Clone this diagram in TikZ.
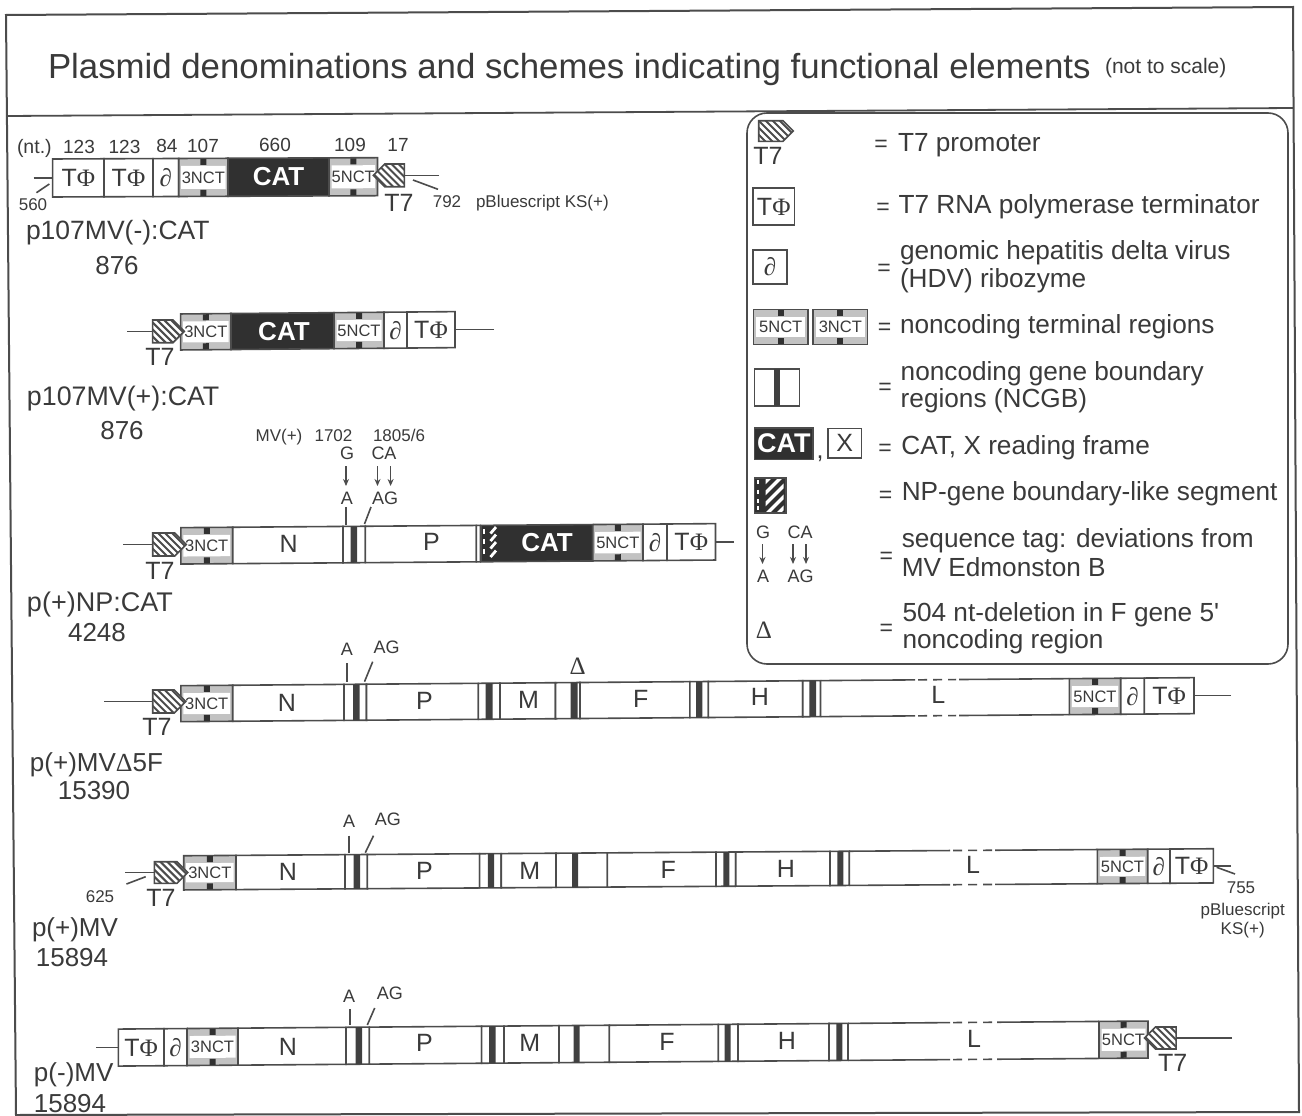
\documentclass[tikz,border=0pt]{standalone}
\usepackage{fontspec}
\setmainfont{Liberation Sans}
\newfontfamily\srf{Liberation Serif}
\newfontfamily\plainsans{Liberation Sans}
\usetikzlibrary{shapes.symbols,arrows.meta,calc}
\definecolor{ink}{HTML}{3A3A3A}
\definecolor{linec}{HTML}{4C4C4C}
\definecolor{darkf}{HTML}{303030}
\definecolor{barc}{HTML}{404040}
\definecolor{nctg}{HTML}{C2C2C2}
\newcommand\fsz[1]{\fontsize{#1}{#1}\selectfont}
\newcommand\TPhi{T{\srf Φ}}
\newcommand\dpar{{\srf ∂}}
\newcommand\Dlt{{\srf Δ}}
\tikzset{
  txt/.style={inner sep=0pt,outer sep=0pt,text=ink},
  conn/.style={draw=linec,line width=1.6pt},
  segbox/.style={draw=linec,line width=1.6pt,fill=white,inner sep=0pt,outer sep=0pt,text=ink,font=\fsz{25}},
  catbox/.style={segbox,fill=darkf,text=white,font=\fsz{26}\bfseries},
  nctlab/.style={inner sep=0pt,outer sep=0pt,text=ink,font=\fsz{16.5}},
  gbar/.style={fill=barc},
  pent/.style={shape=signal,signal from=nowhere,draw=linec,line width=1.6pt,fill=white,inner sep=0pt,outer sep=0pt,
    path picture={\foreach \d in {-35,-28,...,35}{\draw[linec,line width=2pt] ([xshift=\d pt]path picture bounding box.center) ++(-20pt,20pt) -- ++(40pt,-40pt);}}},
  rowtilt/.style={cm={1,#1,0,1,(0,0)},every node/.append style={transform shape}},
  seqarrow/.style={draw=linec,line width=1.2pt,-{Stealth[length=7pt,width=6pt]}},
}
\newcommand\seg[4]{\node[segbox,minimum width={(#3-#2)*1pt},minimum height={(\yb-\yt)*1pt}] (#1) at ({(#2+#3)/2},{(\yt+\yb)/2}) {#4};}
\newcommand\cat[3]{\node[catbox,minimum width={(#3-#2)*1pt},minimum height={(\yb-\yt)*1pt}] (#1) at ({(#2+#3)/2},{(\yt+\yb)/2}) {};}
\newcommand\nct[4]{%
  \node[segbox,fill=nctg,minimum width={(#3-#2)*1pt},minimum height={(\yb-\yt)*1pt}] (#1) at ({(#2+#3)/2},{(\yt+\yb)/2}) {};
  \fill[white] ({#2+2.5},{\yt+7.5}) rectangle ({#3-2.5},{\yb-7.5});
  \fill[darkf] ({(#2+#3)/2-3},{\yt+0.5}) rectangle ({(#2+#3)/2+3},{\yt+6.5});
  \fill[darkf] ({(#2+#3)/2-3},{\yb-6.5}) rectangle ({(#2+#3)/2+3},{\yb-0.5});
  \node[nctlab] (#1l) at ({(#2+#3)/2},{(\yt+\yb)/2}) {#4};}
\newcommand\bd[5]{\seg{#1}{#2}{#3}{}\fill[gbar] (#4,\yt) rectangle (#5,\yb);}
\newcommand\Lseg[4]{%
  \draw[conn] (#1,\yt) -- (#2,\yt) (#3,\yt) -- (#4,\yt) (#1,\yb) -- (#2,\yb) (#3,\yb) -- (#4,\yb);
  \draw[conn,dash pattern=on 9pt off 6pt] ({#2+3},\yt) -- ({#3-3},\yt) ({#2+3},\yb) -- ({#3-3},\yb);}
\newcommand\txc[5]{\node[txt,anchor=base] (#1) at ({#2},{#3+0.358*#4}) {\fsz{#4}#5};}
\newcommand\txl[5]{\node[txt,anchor=base west] (#1) at ({#2},{#3+0.358*#4}) {\fsz{#4}#5};}
\newcommand\pentR[5]{\node[pent,signal to=east,minimum width={(#3-#2)*1pt},minimum height={(#5-#4)*1pt}] (#1) at ({(#2+#3)/2},{(#4+#5)/2}) {};}
\newcommand\pentL[5]{\node[pent,signal to=west,minimum width={(#3-#2)*1pt},minimum height={(#5-#4)*1pt}] (#1) at ({(#2+#3)/2},{(#4+#5)/2}) {};}
\newcommand\tick[5]{\coordinate (#1a) at (#2,#3);\coordinate (#1b) at (#4,#5);\draw[conn] (#1a) -- (#1b);}
\newcommand\stem[3]{\coordinate (#1) at (#2,0);\draw[conn] (#1 |- #3) -- (#3);}
\begin{document}
\begin{tikzpicture}[x=1pt,y=-1pt]
\useasboundingbox (0,0) rectangle (1302,1116);
\fill[white] (0,0) rectangle (1302,1116);
% frame
\draw[draw=linec,line width=2pt] (6,15) -- (1293,7) -- (1299,1112) -- (16,1115) -- cycle;
\draw[draw=linec,line width=1.8pt] (7,116) -- (1293,108);
% title
\txl{title}{48}{66}{34.8}{Plasmid denominations and schemes indicating functional elements}
\txl{titleb}{1105}{66}{21}{(not to scale)}

% legend
\draw[draw=linec,line width=1.6pt,rounded corners=20pt] (747,113) rectangle (1288,664);
\pentR{lgT}{753.6}{788}{120.7}{141.4}
\txc{lgTt}{768}{156}{25}{T7}
\txc{lgE1}{881}{143}{23}{=}\txl{lgL1}{898}{142}{26.2}{T7 promoter}
\def\yt{187.9}\def\yb{225}\seg{lgPhi}{752.9}{794.6}{\TPhi}
\txc{lgE2}{883}{206}{23}{=}\txl{lgL2}{898.5}{204}{26.2}{T7 RNA polymerase terminator}
\def\yt{250}\def\yb{284}\seg{lgDel}{753.2}{787}{\dpar}
\txc{lgE3}{884}{267}{23}{=}\txl{lgL3a}{900}{250}{26.2}{genomic hepatitis delta virus}\txl{lgL3b}{900}{278.5}{26.2}{(HDV) ribozyme}
\def\yt{309.3}\def\yb{344.6}\nct{lg5}{753.6}{807.9}{5NCT}\nct{lg3}{813.2}{867.5}{3NCT}
\txc{lgE4}{884.6}{326}{23}{=}\txl{lgL4}{900}{324}{26.2}{noncoding terminal regions}
\def\yt{369}\def\yb{405.7}\bd{lgB}{754.3}{799.3}{774}{780.4}
\txc{lgE5}{885}{386}{23}{=}\txl{lgL5a}{900.7}{371}{26.2}{noncoding gene boundary}\txl{lgL5b}{900.7}{398}{26.2}{regions (NCGB)}
\def\yt{427.9}\def\yb{459.3}\cat{lgC}{754.3}{813.2}\node[txt,text=white,font=\fsz{27}\bfseries] (lgCt) at (lgC) {CAT};
\txc{lgComma}{820}{450}{25}{,}
\def\yt{428.6}\def\yb{458}\seg{lgX}{828.2}{861.4}{X}
\txc{lgE6}{885}{447}{23}{=}\txl{lgL6}{901.4}{445}{26.2}{CAT, X reading frame}
\node[segbox,fill=darkf,minimum width=31.4pt,minimum height=35pt] (lgS) at (770,495.4) {};
\foreach \ys in {480,489.5,499,506}{\draw[white,line width=2.4pt] (757.7,\ys) -- (757.7,{\ys+4});}
\begin{scope}
\clip (765.5,479.5) rectangle (783.5,511);
\foreach \d in {-33,-22,-11,0,11,22,33}{\draw[white,line width=3.2pt] ({774.5+\d-20},{495+20}) -- ({774.5+\d+20},{495-20});}
\end{scope}
\txc{lgE7}{885.7}{494}{23}{=}\txl{lgL7}{901.8}{491.5}{26.2}{NP-gene boundary-like segment}
\txc{lgG}{763}{532.5}{18}{G}\txc{lgCA}{800}{532.5}{18}{CA}
\txc{lgA}{763}{576}{18}{A}\txc{lgAG}{800.7}{576}{18}{AG}
\coordinate (lga1) at (762.5,544);\coordinate (lgb1) at (762.5,564);\draw[seqarrow] (lga1) -- (lgb1);
\coordinate (lga2) at (793,544);\coordinate (lgb2) at (793,564);\draw[seqarrow] (lga2) -- (lgb2);
\coordinate (lga3) at (806,544);\coordinate (lgb3) at (806,564);\draw[seqarrow] (lga3) -- (lgb3);
\txc{lgE8}{886.4}{555}{23}{=}\txl{lgL8a}{901.8}{538.5}{26.2}{sequence tag: deviations from}\txl{lgL8b}{901.8}{567}{26.2}{MV Edmonston B}
\txc{lgD}{764}{629.5}{25}{\Dlt}
\txc{lgE9}{886.4}{627}{23}{=}\txl{lgL9a}{902.5}{612}{26.2}{504 nt-deletion in F gene 5{\plainsans '}}\txl{lgL9b}{902.5}{639.5}{26.2}{noncoding region}

% row 1
\txl{r1nt}{17}{147}{19.5}{(nt.)}
\txc{r1n1}{79}{147}{19}{123}\txc{r1n2}{124.5}{147}{19}{123}\txc{r1n3}{167}{146}{19}{84}\txc{r1n4}{203}{146}{19}{107}
\txc{r1n5}{275}{145}{19}{660}\txc{r1n6}{350}{145}{19}{109}\txc{r1n7}{398}{145}{19}{17}
\begin{scope}[rowtilt=0.004]
\def\yt{159.2}\def\yb{197.2}
\seg{r1a}{52.6}{104}{\TPhi}\seg{r1b}{104}{153}{\TPhi}\seg{r1c}{153}{178.7}{\dpar}
\nct{r1d}{178.7}{228}{3NCT}\cat{r1e}{228}{329}\nct{r1f}{329}{377.5}{5NCT}
\end{scope}
\node[txt,text=white,font=\fsz{26}\bfseries] (r1cat) at (278.6,177) {CAT};
\pentL{r1T}{379}{410}{164}{186.7}
\stem{r1s1}{33.6}{r1a.west}\stem{r1s2}{439}{r1T.east}
\tick{r1k1}{36.4}{192.7}{49.4}{184}\tick{r1k2}{413}{180}{438}{189.3}
\txc{r1t7}{399}{203}{25}{T7}\txc{r1792}{447}{201}{17}{792}\txl{r1pb}{476}{201}{17}{pBluescript KS(+)}\txc{r1560}{33}{204}{17}{560}
\txl{r1name}{26}{230}{26.5}{p107MV(-):CAT}\txc{r1len}{117}{265}{26}{876}

% row 2
\begin{scope}[rowtilt=0.0085]
\def\yt{315.5}\def\yb{351.5}
\nct{r2a}{180.6}{231}{3NCT}\cat{r2b}{231}{334}\nct{r2c}{334}{384}{5NCT}\seg{r2d}{384}{407}{\dpar}\seg{r2e}{407}{455}{\TPhi}
\end{scope}
\node[txt,text=white,font=\fsz{26}\bfseries] (r2cat) at (284,331.5) {CAT};
\pentR{r2T}{147}{178.6}{320}{342.7}
\stem{r2s1}{127}{r2T.west}\stem{r2s2}{494}{r2e.east}
\txc{r2t7}{160}{357}{25}{T7}
\txl{r2name}{27}{396}{26.8}{p107MV(+):CAT}\txc{r2len}{122}{430}{26}{876}

% row 3
\txc{r3mv}{279}{435}{17}{MV(+)}\txc{r3p1}{333.5}{435}{17}{1702}\txc{r3p2}{399}{435}{17}{1805/6}
\txc{r3G}{347}{453}{18}{G}\txc{r3CA}{384}{453}{18}{CA}\txc{r3A}{347}{498}{18}{A}\txc{r3AG}{385}{498}{18}{AG}
\coordinate (r3a1) at (346,466);\coordinate (r3b1) at (346,486);\draw[seqarrow] (r3a1) -- (r3b1);
\coordinate (r3a2) at (377.5,466);\coordinate (r3b2) at (377.5,486);\draw[seqarrow] (r3a2) -- (r3b2);
\coordinate (r3a3) at (390.6,466);\coordinate (r3b3) at (390.6,486);\draw[seqarrow] (r3a3) -- (r3b3);
\tick{r3k1}{345.7}{507}{345.7}{525}\tick{r3k2}{371}{507}{364.5}{524}
\begin{scope}[rowtilt=0.0075]
\def\yt{529}\def\yb{565.4}
\nct{r3a}{180.8}{232.7}{3NCT}\seg{r3b}{232.7}{343}{}\bd{r3c}{343}{365.3}{350.5}{357}\seg{r3d}{365.3}{476.3}{}
\seg{r3e}{476.3}{480.4}{}\cat{r3f}{481}{592.7}
\nct{r3g}{592.7}{643}{5NCT}\seg{r3h}{643}{667}{\dpar}\seg{r3i}{667}{715.5}{\TPhi}
\foreach \ys in {533,543,553}{\draw[white,line width=2pt] (483.5,\ys) -- (483.5,{\ys+4.5});}
\foreach \ys in {534,541.5,549,557.5}{\draw[white,line width=2.8pt] (490.5,{\ys+3.2}) -- (496,{\ys-3.2});}
\end{scope}
\txc{r3N}{288.6}{544}{25}{N}\txc{r3P}{431.4}{542}{25}{P}
\node[txt,text=white,font=\fsz{26}\bfseries] (r3cat) at (547,543) {CAT};
\pentR{r3T}{147}{180.4}{533}{556}
\stem{r3s1}{123}{r3T.west}\stem{r3s2}{734}{r3i.east}
\txc{r3t7}{160}{571}{25}{T7}
\txl{r3name}{27}{602}{27}{p(+)NP:CAT}\txc{r3len}{97}{632}{26}{4248}

% row 4
\txc{r4A}{347}{649}{18}{A}\txc{r4AG}{386.5}{647}{18}{AG}\txc{r4D}{577.6}{666}{25}{\Dlt}
\tick{r4k1}{347}{663}{347}{681.7}\tick{r4k2}{372.7}{661.7}{364.5}{681.7}
\begin{scope}[rowtilt=0.0079]
\def\yt{687.1}\def\yb{723.1}
\nct{r4a}{180.8}{232.7}{3NCT}\seg{r4b}{232.7}{344}{}\bd{r4c}{344}{366.5}{353}{359.6}\seg{r4d}{366.5}{478.4}{}
\bd{r4e}{478.4}{500}{485.7}{492.7}\seg{r4f}{500}{555.5}{}\bd{r4g}{555.5}{580}{570.6}{577.6}\seg{r4h}{580}{689.8}{}
\bd{r4i}{689.8}{708.3}{696}{702.3}\seg{r4j}{708.3}{802.7}{}\bd{r4k}{802.7}{820.5}{809.3}{816}
\Lseg{820.5}{915}{959}{1069.3}
\nct{r4m}{1069.3}{1120.7}{5NCT}\seg{r4n}{1120.7}{1144.3}{\dpar}\seg{r4o}{1144.3}{1194}{\TPhi}
\end{scope}
\txc{r4N}{287}{703}{25}{N}\txc{r4P}{424.5}{701}{25}{P}\txc{r4M}{528.6}{700}{25}{M}\txc{r4F}{640.8}{699}{25}{F}\txc{r4H}{760}{697}{25}{H}\txc{r4L}{938.3}{695}{25}{L}
\pentR{r4T}{147}{180}{690}{713}
\stem{r4s1}{104}{r4T.west}\stem{r4s2}{1231}{r4o.east}
\txc{r4t7}{157}{727}{25}{T7}
\txl{r4name}{30}{762}{26}{p(+)MV\Dlt5F}\txc{r4len}{94}{790}{26}{15390}

% row 5
\txc{r5A}{349}{821}{18}{A}\txc{r5AG}{387.8}{819}{18}{AG}
\tick{r5k1}{349}{835.7}{349}{852.7}\tick{r5k2}{373.5}{835.7}{365.3}{852.7}
\begin{scope}[rowtilt=0.0068]
\def\yt{857}\def\yb{891.2}
\nct{r5a}{183.7}{236}{3NCT}\seg{r5b}{236}{345}{}\bd{r5c}{345}{367.3}{353.5}{360}\seg{r5d}{367.3}{479.6}{}
\bd{r5e}{479.6}{501.2}{487.8}{494}\seg{r5f}{501.2}{556}{}\bd{r5g}{556}{607.3}{572}{578}\seg{r5h}{607.3}{716}{}
\bd{r5i}{716}{735.7}{723.3}{729.3}\seg{r5j}{735.7}{830}{}\bd{r5k}{830}{849.2}{837.3}{843.3}
\Lseg{849.2}{950}{995}{1097.3}
\nct{r5m}{1097.3}{1147.7}{5NCT}\seg{r5n}{1147.7}{1170}{\dpar}\seg{r5o}{1170}{1213.3}{\TPhi}
\end{scope}
\txc{r5N}{287.8}{872}{25}{N}\txc{r5P}{424.5}{871}{25}{P}\txc{r5M}{529.8}{871}{25}{M}\txc{r5F}{668.3}{870}{25}{F}\txc{r5H}{786}{869}{25}{H}\txc{r5L}{973}{865}{25}{L}
\pentR{r5T}{149}{182.4}{861.7}{883.3}
\stem{r5s1}{125}{r5T.west}\stem{r5s2}{1231}{r5o.east}
\tick{r5k3}{126.5}{884}{145.7}{876.7}\tick{r5k4}{1216.7}{867.3}{1235}{874}
\txc{r5t7}{161}{898}{25}{T7}\txc{r5625}{100}{896}{17}{625}
\txc{r5755}{1241}{887}{17}{755}\txc{r5pb}{1242.7}{909}{17}{pBluescript}\txc{r5ks}{1242.7}{928}{17}{KS(+)}
\txl{r5name}{32}{927}{26}{p(+)MV}\txc{r5len}{72}{957}{26}{15894}

% row 7
\txc{r7A}{349}{996}{18}{A}\txc{r7AG}{389.8}{993}{18}{AG}
\tick{r7k1}{349.8}{1009}{349.8}{1025}\tick{r7k2}{374.7}{1008}{367.3}{1025}
\begin{scope}[rowtilt=0.0078]
\def\yt{1030}\def\yb{1067}
\seg{r7a}{118.4}{164}{\TPhi}\seg{r7b}{164}{187}{\dpar}\nct{r7c}{187}{238}{3NCT}\seg{r7d}{238}{346}{}
\bd{r7e}{346}{369.4}{355.5}{362}\seg{r7f}{369.4}{481.6}{}\bd{r7g}{481.6}{504}{489}{495.5}\seg{r7h}{504}{559}{}
\bd{r7i}{559}{609.4}{573.5}{579.6}\seg{r7j}{609.4}{718.4}{}\bd{r7k}{718.4}{738}{724.5}{730.6}\seg{r7l}{738}{829}{}
\bd{r7m}{829}{848}{836.3}{842.4}\Lseg{848}{950}{997}{1099}\nct{r7n}{1099}{1148}{5NCT}
\end{scope}
\txc{r7N}{288}{1047}{25}{N}\txc{r7P}{424.5}{1043}{25}{P}\txc{r7M}{529.8}{1043}{25}{M}\txc{r7F}{667}{1042}{25}{F}\txc{r7H}{787}{1041}{25}{H}\txc{r7L}{974}{1039}{25}{L}
\pentL{r7T}{1150}{1181.6}{1027}{1049}
\stem{r7s1}{96}{r7a.west}\stem{r7s2}{1232}{r7T.east}
\txc{r7t7}{1172.7}{1063}{25}{T7}
\txl{r7name}{34}{1072}{26}{p(-)MV}\txc{r7len}{70}{1103}{26}{15894}
\end{tikzpicture}
\end{document}
